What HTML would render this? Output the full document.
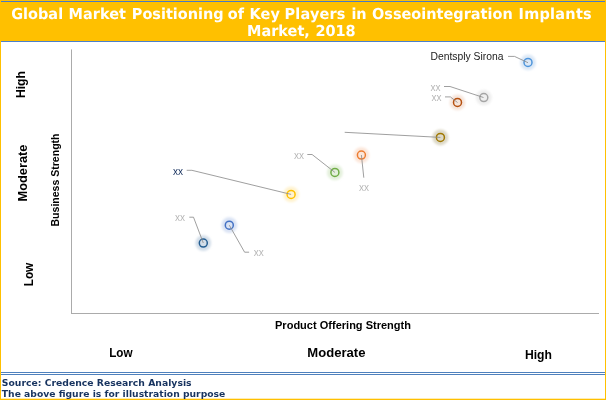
<!DOCTYPE html>
<html>
<head>
<meta charset="utf-8">
<title>Global Market Positioning of Key Players in Osseointegration Implants Market, 2018</title>
<style>
html,body{margin:0;padding:0;background:#fff;}
body{width:606px;height:400px;position:relative;overflow:hidden;}
svg{position:absolute;left:0;top:0;display:block;}
.t{font-family:"DejaVu Sans","Liberation Sans",sans-serif;font-weight:bold;}
.c{font-family:"Liberation Sans",sans-serif;}
</style>
</head>
<body>
<svg width="606" height="400" viewBox="0 0 606 400">
  <defs>
    <filter id="gl" x="-150%" y="-150%" width="400%" height="400%"><feGaussianBlur stdDeviation="1.05"/></filter>
  </defs>
  <!-- frame -->
  <rect x="0" y="0" width="606" height="400" fill="#ffffff"/>
  <rect x="0" y="0" width="606" height="41" fill="#FFC000"/>
  <rect x="0" y="0" width="1" height="400" fill="#FFC000"/>
  <rect x="605" y="0" width="1" height="400" fill="#FFC000"/>
  <rect x="0" y="398.7" width="606" height="1.3" fill="#FFC000"/>
  <rect x="1" y="1" width="604" height="1" fill="#4A7BC4"/>
  <rect x="1" y="41" width="604" height="1" fill="#4A80CC"/>
  <rect x="1" y="372" width="604" height="1" fill="#4F81BD"/>
  <rect x="1" y="374" width="604" height="1" fill="#4F81BD"/>

  <!-- title -->
  <text class="t" transform="translate(0,19) skewX(0.1) scale(1,1.045)" y="0" font-size="14.5" fill="#ffffff">
<tspan x="11.2">Global </tspan>
<tspan x="68.6">Market </tspan>
<tspan x="131.8">Positioning </tspan>
<tspan x="227.7">of </tspan>
<tspan x="249.6">Key </tspan>
<tspan x="284.6" letter-spacing="0.15">Players </tspan>
<tspan x="351.4">in </tspan>
<tspan x="372.0">Osseointegration </tspan>
<tspan x="518.5" letter-spacing="0.25">Implants </tspan>
</text>
  <text class="t" transform="translate(0,36) skewX(0.1) scale(1,1.045)" y="0" font-size="14.5" fill="#ffffff"><tspan x="247">Market, </tspan><tspan x="315.4">2018</tspan></text>

  <!-- axes -->
  <rect x="71" y="49.4" width="1" height="264.6" fill="#ABABAB"/>
  <rect x="71" y="313" width="528" height="1" fill="#ABABAB"/>

  <!-- axis labels -->
  <g class="c" font-weight="bold" fill="#000">
    <text transform="translate(25.4,84.6) rotate(-90)" font-size="12.1" text-anchor="middle">High</text>
    <text transform="translate(27.2,173) rotate(-90)" font-size="12.3" text-anchor="middle" textLength="57" lengthAdjust="spacingAndGlyphs">Moderate</text>
    <text transform="translate(33.1,274.5) rotate(-90)" font-size="12.3" text-anchor="middle" textLength="23.6" lengthAdjust="spacingAndGlyphs">Low</text>
    <text transform="translate(59.4,180) rotate(-90)" font-size="11" text-anchor="middle" textLength="93" lengthAdjust="spacingAndGlyphs">Business Strength</text>
    <text x="343" y="328.8" font-size="11" text-anchor="middle" textLength="136" lengthAdjust="spacingAndGlyphs">Product Offering Strength</text>
    <text x="120.9" y="357.3" font-size="12.6" text-anchor="middle" textLength="23.4" lengthAdjust="spacingAndGlyphs">Low</text>
    <text x="336.4" y="356.8" font-size="12.6" text-anchor="middle" textLength="58.1" lengthAdjust="spacingAndGlyphs">Moderate</text>
    <text x="538.4" y="358.7" font-size="12.6" text-anchor="middle" textLength="27" lengthAdjust="spacingAndGlyphs">High</text>
  </g>

  <!-- glows -->
  <g filter="url(#gl)">
    <circle cx="528" cy="62.4" r="7.9" fill="#DCE8F6"/>
    <circle cx="483.8" cy="97.6" r="7.9" fill="#EFEFEF"/>
    <circle cx="457.5" cy="102.4" r="7.9" fill="#F6E5DB"/>
    <circle cx="440.4" cy="137.4" r="8" fill="#DDD9C8"/>
    <circle cx="361.4" cy="155.1" r="7.9" fill="#FCE6D9"/>
    <circle cx="334.9" cy="172.4" r="7.9" fill="#E4F0DC"/>
    <circle cx="291.1" cy="194.4" r="7.9" fill="#FFF3D0"/>
    <circle cx="229.3" cy="225.2" r="7.9" fill="#DAE3F4"/>
    <circle cx="203.3" cy="243.1" r="7.9" fill="#D3DEE9"/>
  </g>
  <!-- markers -->
  <g fill="none" stroke-width="1.5">
    <circle cx="528" cy="62.4" r="4" stroke="#4E95DB"/>
    <circle cx="483.8" cy="97.6" r="4" stroke="#A5A5A5"/>
    <circle cx="457.5" cy="102.4" r="4" stroke="#B5500F"/>
    <circle cx="440.4" cy="137.4" r="4" stroke="#A07800"/>
    <circle cx="361.4" cy="155.1" r="4" stroke="#ED7D31"/>
    <circle cx="334.9" cy="172.4" r="4" stroke="#70AD47"/>
    <circle cx="291.1" cy="194.4" r="4" stroke="#FFC000"/>
    <circle cx="229.3" cy="225.2" r="4" stroke="#4472C4"/>
    <circle cx="203.3" cy="243.1" r="4" stroke="#255E91"/>
  </g>

  <!-- leader lines -->
  <g fill="none" stroke="#8E8E8E" stroke-width="0.85">
    <polyline points="508,56.4 514.5,56.4 528,62.7"/>
    <polyline points="444,86.5 450,86.5 483.5,97.5"/>
    <polyline points="445,96.9 450.4,96.9 457.5,102.5"/>
    <polyline points="344.7,132.3 440.4,137.4"/>
    <polyline points="361.4,155 363.8,177.7"/>
    <polyline points="307.3,154.5 312.1,154.5 334.9,172.4"/>
    <polyline points="186.7,170.3 191.9,170.3 291.1,194.4"/>
    <polyline points="229.3,225.2 244.6,252.2 249.1,252.2"/>
    <polyline points="189.3,217.2 193.5,217.2 203.3,243"/>
  </g>

  <!-- data labels -->
  <g class="c">
    <text x="430.5" y="60.2" font-size="10.5" fill="#1a1a1a" textLength="73" lengthAdjust="spacingAndGlyphs">Dentsply Sirona</text>
    <g font-size="10" fill="#B8B8B8">
      <text x="430.6" y="90.5">xx</text>
      <text x="431.6" y="100.8">xx</text>
      <text x="359" y="191">xx</text>
      <text x="294" y="158.7">xx</text>
      <text x="253.7" y="255.9">xx</text>
      <text x="175" y="221.1">xx</text>
    </g>
    <text x="173" y="174.6" font-size="10" fill="#1F3864">xx</text>
  </g>

  <!-- source -->
  <g class="t" font-size="9.25" fill="#17335F">
    <text x="1.8" y="386" textLength="189.8" lengthAdjust="spacingAndGlyphs">Source: Credence Research Analysis</text>
    <text x="1.8" y="396.7" textLength="223.5" lengthAdjust="spacingAndGlyphs">The above figure is for illustration purpose</text>
  </g>
</svg>
</body>
</html>
